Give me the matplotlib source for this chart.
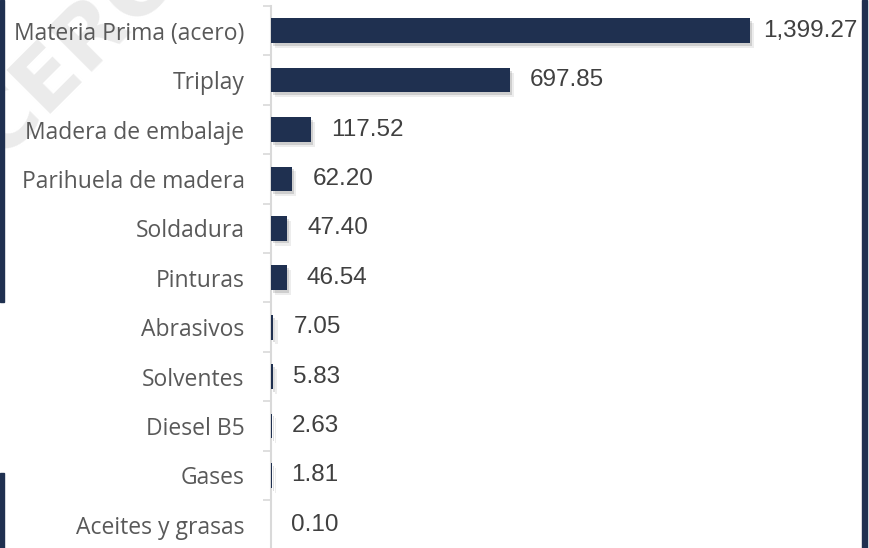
import matplotlib
matplotlib.use("Agg")
import matplotlib.pyplot as plt
import matplotlib.patheffects as pe
from matplotlib.patches import Rectangle

categories = ["Materia Prima (acero)", "Triplay", "Madera de embalaje", "Parihuela de madera",
              "Soldadura", "Pinturas", "Abrasivos", "Solventes", "Diesel B5", "Gases",
              "Aceites y grasas"]
values = [1399.27, 697.85, 117.52, 62.20, 47.40, 46.54, 7.05, 5.83, 2.63, 1.81, 0.10]

W, H = 869, 548
fig = plt.figure(figsize=(W / 100, H / 100), dpi=100)
fig.patch.set_facecolor("white")

# watermark (behind everything)
fig.text(0 / W, (H - 160) / H, "CERO", fontsize=62, color="#ebebeb", rotation=45,
         rotation_mode="anchor", family="DejaVu Sans", fontweight="semibold",
         ha="left", va="baseline", zorder=-5)

# dark frame pieces
navy = "#1f3050"
fig.patches.append(Rectangle((0, (H - 302) / H), 3.5 / W, 302 / H,
                             transform=fig.transFigure, color=navy, zorder=1))
fig.patches.append(Rectangle((0, 0), 3.5 / W, (H - 473) / H,
                             transform=fig.transFigure, color=navy, zorder=1))
fig.patches.append(Rectangle((862 / W, 0), 5 / W, 1,
                             transform=fig.transFigure, color=navy, zorder=1))

left, right = 271 / W, 819 / W
top, bottom = (H - 6) / H, (H - 549.5) / H
ax = fig.add_axes([left, bottom, right - left, top - bottom])
ax.set_facecolor("none")

n = len(categories)
ypos = list(range(n))
bars = ax.barh(ypos, values, height=0.5, color=navy, zorder=3)
for b in bars:
    b.set_path_effects([pe.SimplePatchShadow(offset=(1.5, -2), shadow_rgbFace="#000000", alpha=0.13),
                        pe.SimplePatchShadow(offset=(3, -3.5), shadow_rgbFace="#000000", alpha=0.07),
                        pe.Normal()])

ax.set_ylim(n - 0.5, -0.5)
ax.set_xlim(0, 1600)

for y, v in zip(ypos, values):
    off = 13 if v > 1000 else 20
    ax.annotate(f"{v:,.2f}", (v, y), xytext=(off, 0), textcoords="offset pixels",
                va="center", ha="left", fontsize=17.5, color="#404040",
                family="Liberation Sans")

ax.set_yticks(ypos)
ax.set_yticklabels(categories)
ax.set_yticks([i - 0.5 for i in range(n + 1)], minor=True)
ax.tick_params(axis="y", which="major", length=0, pad=19, labelsize=16.5, labelcolor="#595959")
ax.tick_params(axis="y", which="minor", length=6, width=1.2, color="#d9d9d9")
for lbl in ax.get_yticklabels():
    lbl.set_family("Open Sans")
ax.set_xticks([])
for s in ["top", "right", "bottom"]:
    ax.spines[s].set_visible(False)
ax.spines["left"].set_color("#d9d9d9")
ax.spines["left"].set_linewidth(1.5)

fig.savefig("out.png", dpi=100, facecolor="white")
